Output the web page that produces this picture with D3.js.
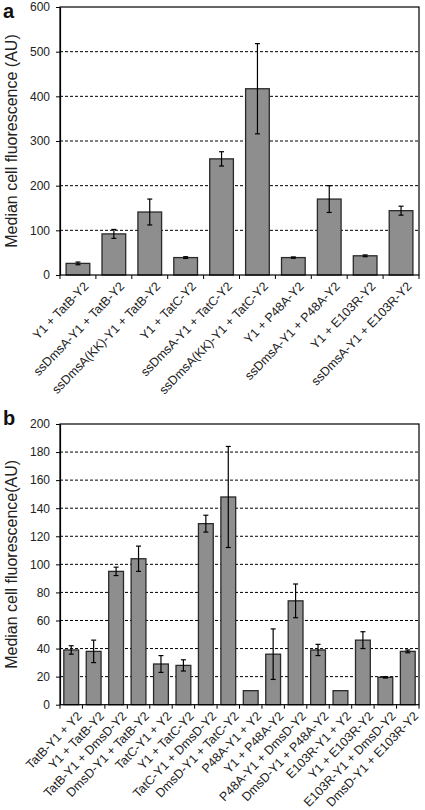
<!DOCTYPE html>
<html><head><meta charset="utf-8">
<script src="https://cdn.jsdelivr.net/npm/d3@7"></script>
<style>
body{margin:0;background:#fff;}
svg{display:block;font-family:"Liberation Sans",Arial,sans-serif;}
</style></head>
<body>
<svg id="c" width="425" height="810"></svg>
<script>
// Panel a
const catsA = ["Y1 + TatB-Y2","ssDmsA-Y1 + TatB-Y2","ssDmsA(KK)-Y1 + TatB-Y2","Y1 + TatC-Y2","ssDmsA-Y1 + TatC-Y2","ssDmsA(KK)-Y1 + TatC-Y2","Y1 + P48A-Y2","ssDmsA-Y1 + P48A-Y2","Y1 + E103R-Y2","ssDmsA-Y1 + E103R-Y2"];
const valsA = [26, 92, 141, 39, 260, 417, 39, 170, 43, 144];
const errA  = [3, 10, 29, 2, 16, 101, 1.5, 30, 2, 10];
const ticksA = [0,100,200,300,400,500,600];
// Panel b
const catsB = ["TatB-Y1 + Y2","Y1 + TatB-Y2","TatB-Y1 + DmsD-Y2","DmsD-Y1 + TatB-Y2","TatC-Y1 + Y2","Y1 + TatC-Y2","TatC-Y1 + DmsD-Y2","DmsD-Y1 + TatC-Y2","P48A-Y1 + Y2","Y1 + P48A-Y2","P48A-Y1 + DmsD-Y2","DmsD-Y1 + P48A-Y2","E103R-Y1 + Y2","Y1 + E103R-Y2","E103R-Y1 + DmsD-Y2","DmsD-Y1 + E103R-Y2"];
const valsB = [39, 38, 95, 104, 29, 28, 129, 148, 10, 36, 74, 39, 10, 46, 19.5, 38];
const errB  = [3, 8, 3, 9, 6, 4, 6, 36, 0, 18, 12, 4, 0, 6, 0.5, 1];
const ticksB = [0,20,40,60,80,100,120,140,160,180,200];

const svg = d3.select("#c");

function panel(o){
  const g = svg.append("g");
  const x = d3.scaleBand().domain(o.cats).range([o.left,o.right]).paddingInner(0.34).paddingOuter(0.17);
  const y = d3.scaleLinear().domain([0,o.max]).range([o.bottom,o.top]);
  // gridlines
  g.selectAll(".grid").data(o.ticks.filter(t=>t>0 && t<o.max)).enter().append("line")
    .attr("x1",o.left).attr("x2",o.right).attr("y1",d=>y(d)).attr("y2",d=>y(d))
    .attr("stroke","#000").attr("stroke-width",1).attr("stroke-dasharray","3,2");
  // bars
  g.selectAll(".bar").data(o.vals).enter().append("rect")
    .attr("x",(d,i)=>x(o.cats[i])).attr("width",x.bandwidth())
    .attr("y",d=>y(d)).attr("height",d=>o.bottom-y(d))
    .attr("fill","#8e8e8e").attr("stroke","#2a2a2a").attr("stroke-width",1.3);
  // error bars
  const eg = g.selectAll(".err").data(o.vals).enter().append("g");
  eg.each(function(d,i){
    const e=o.errs[i]; if(!e) return;
    const cx = x(o.cats[i])+x.bandwidth()/2;
    const s=d3.select(this);
    s.append("line").attr("x1",cx).attr("x2",cx).attr("y1",y(d-e)).attr("y2",y(d+e)).attr("stroke","#000").attr("stroke-width",1.2);
    [d-e,d+e].forEach(v=>s.append("line").attr("x1",cx-2.5).attr("x2",cx+2.5).attr("y1",y(v)).attr("y2",y(v)).attr("stroke","#000").attr("stroke-width",1.2));
  });
  // frame
  g.append("rect").attr("x",o.left).attr("y",o.top).attr("width",o.right-o.left).attr("height",o.bottom-o.top)
    .attr("fill","none").attr("stroke","#000").attr("stroke-width",1.2);
  // y axis
  const ya = g.append("g").attr("transform",`translate(${o.left},0)`)
    .call(d3.axisLeft(y).tickValues(o.ticks).tickSize(4).tickSizeOuter(0).tickPadding(6));
  ya.select(".domain").attr("stroke","#000").attr("stroke-width",1.2);
  ya.selectAll("text").attr("font-size",12).attr("fill","#222").attr("font-family","Liberation Sans, Arial, sans-serif");
  // x ticks at band boundaries
  const step = x.step();
  const bounds = o.cats.map((c,i)=>x(c)-x.paddingInner()*step/2);
  bounds.push(o.right);
  g.selectAll(".xt").data(bounds).enter().append("line")
    .attr("x1",d=>d).attr("x2",d=>d).attr("y1",o.bottom).attr("y2",o.bottom+4)
    .attr("stroke","#000").attr("stroke-width",1);
  // x labels
  g.selectAll(".xl").data(o.cats).enter().append("text")
    .attr("transform",d=>`translate(${x(d)+x.bandwidth()/2+5},${o.bottom+6}) rotate(-46)`)
    .attr("text-anchor","end").attr("dy","0.7em").attr("font-size",12.5).attr("fill","#222")
    .text(d=>d);
  // axis title
  g.append("text").attr("transform",`translate(${o.titleX},${(o.top+o.bottom)/2}) rotate(-90)`)
    .attr("text-anchor","middle").attr("font-size",16).attr("fill","#222").text(o.title);
  // panel letter
  g.append("text").attr("x",3).attr("y",o.letterY).attr("font-size",20).attr("font-weight","bold").attr("fill","#111").text(o.letter);
}

panel({cats:catsA, vals:valsA, errs:errA, ticks:ticksA, max:600, left:60, right:419, top:7, bottom:275,
  title:"Median cell fluorescence (AU)", titleX:17, letter:"a", letterY:18});
panel({cats:catsB, vals:valsB, errs:errB, ticks:ticksB, max:200, left:60, right:419, top:424, bottom:704.7,
  title:"Median cell fluorescence(AU)", titleX:17, letter:"b", letterY:425});
</script>
</body></html>
